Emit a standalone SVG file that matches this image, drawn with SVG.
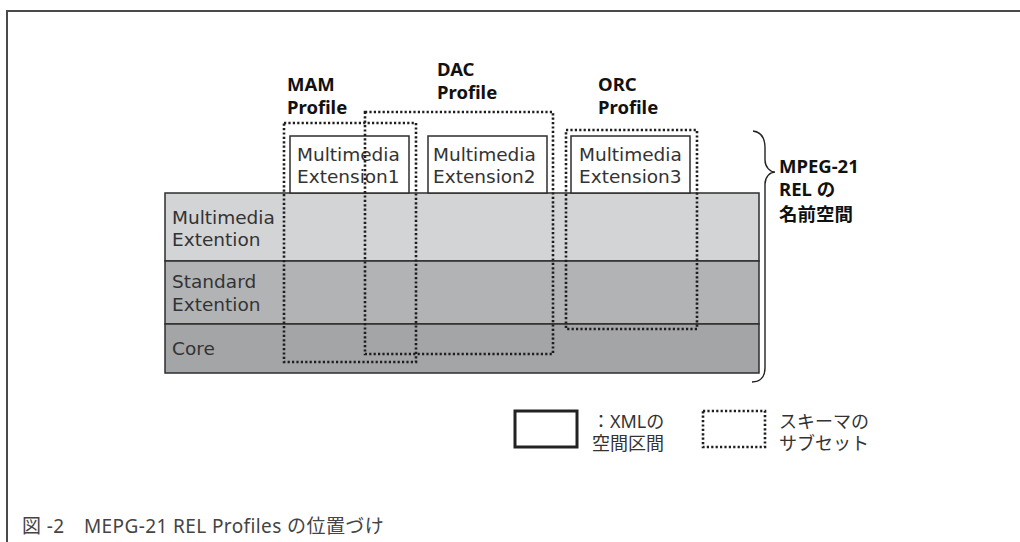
<svg xmlns="http://www.w3.org/2000/svg" width="1020" height="542" viewBox="0 0 1020 542">
  <style>
    .frame { fill: none; stroke: #4a4a4a; stroke-width: 2; }
    .band { stroke: #2e2e2e; stroke-width: 1.5; }
    .ext { fill: #ffffff; stroke: #2e2e2e; stroke-width: 1.5; }
    .subset { fill: none; stroke: #1e1e1e; stroke-width: 2.6; stroke-dasharray: 2.2 2.2; }
    .txt { font-family: "DejaVu Sans", "Noto Sans CJK JP", sans-serif; font-size: 18.5px; fill: #333333; }
    .bold { font-family: "Noto Sans", "Noto Sans CJK JP", sans-serif; font-size: 18.5px; font-weight: bold; fill: #111111; }
    .legend { font-family: "Noto Sans", "Noto Sans CJK JP", sans-serif; font-size: 18px; fill: #333333; }
    .caption { font-family: "Noto Sans", "Noto Sans CJK JP", sans-serif; font-size: 19px; letter-spacing: 0.4px; fill: #444444; }
    .brace { fill: none; stroke: #222222; stroke-width: 1.4; }
  </style>

  <rect x="0" y="0" width="1020" height="542" fill="#ffffff"/>

  <!-- outer frame, open to the right and bottom -->
  <path class="frame" d="M7,542 V11 H1020"/>

  <!-- namespace layers -->
  <g id="layer-multimedia">
    <rect class="band" x="165" y="193" width="594" height="68" fill="#d3d4d6"/>
    <text class="txt" x="172" y="224">Multimedia</text>
    <text class="txt" x="172" y="246">Extention</text>
  </g>
  <g id="layer-standard">
    <rect class="band" x="165" y="261" width="594" height="63" fill="#b2b3b5"/>
    <text class="txt" x="172" y="288">Standard</text>
    <text class="txt" x="172" y="311">Extention</text>
  </g>
  <g id="layer-core">
    <rect class="band" x="165" y="324" width="594" height="49" fill="#a4a5a7"/>
    <text class="txt" x="172" y="355">Core</text>
  </g>

  <!-- multimedia extensions -->
  <g id="ext1">
    <rect class="ext" x="290" y="136" width="119" height="57"/>
    <text class="txt" x="297" y="161">Multimedia</text>
    <text class="txt" x="297" y="183">Extension1</text>
  </g>
  <g id="ext2">
    <rect class="ext" x="428" y="136" width="119" height="57"/>
    <text class="txt" x="433" y="161">Multimedia</text>
    <text class="txt" x="433" y="183">Extension2</text>
  </g>
  <g id="ext3">
    <rect class="ext" x="571" y="136" width="119" height="57"/>
    <text class="txt" x="579" y="161">Multimedia</text>
    <text class="txt" x="579" y="183">Extension3</text>
  </g>

  <!-- profiles (schema subsets) -->
  <g id="profile-mam">
    <rect class="subset" x="284" y="123" width="132" height="239"/>
    <text class="bold" x="287" y="91">MAM</text>
    <text class="bold" x="287" y="114">Profile</text>
  </g>
  <g id="profile-dac">
    <rect class="subset" x="365" y="112" width="188" height="242"/>
    <text class="bold" x="437" y="76">DAC</text>
    <text class="bold" x="437" y="99">Profile</text>
  </g>
  <g id="profile-orc">
    <rect class="subset" x="566" y="130" width="131" height="199"/>
    <text class="bold" x="598" y="91">ORC</text>
    <text class="bold" x="598" y="114">Profile</text>
  </g>

  <!-- brace spanning the REL namespace -->
  <g id="connectors">
    <path class="brace" d="M753,131 C762,132 765,138 765,148 L765,160 C765,167 770,172 775,172 C770,172 765,177 765,184 L765,368 C765,377 760,382 752,382"/>
  </g>
  <g id="namespace-label">
    <text class="bold" x="779" y="173">MPEG-21</text>
    <text class="bold" x="779" y="196">REL の</text>
    <text class="bold" x="779" y="221">名前空間</text>
  </g>

  <!-- legend -->
  <g id="legend-xml">
    <rect x="515" y="411" width="62" height="36" fill="none" stroke="#222222" stroke-width="3"/>
    <text class="legend" x="592" y="428">：XMLの</text>
    <text class="legend" x="592" y="450">空間区間</text>
  </g>
  <g id="legend-subset">
    <rect class="subset" x="703" y="411" width="62" height="36" stroke-width="2"/>
    <text class="legend" x="779" y="428">スキーマの</text>
    <text class="legend" x="779" y="450">サブセット</text>
  </g>

  <!-- caption -->
  <g id="caption">
    <text class="caption" x="22" y="533">図 -2　MEPG-21 REL Profiles の位置づけ</text>
  </g>
</svg>
